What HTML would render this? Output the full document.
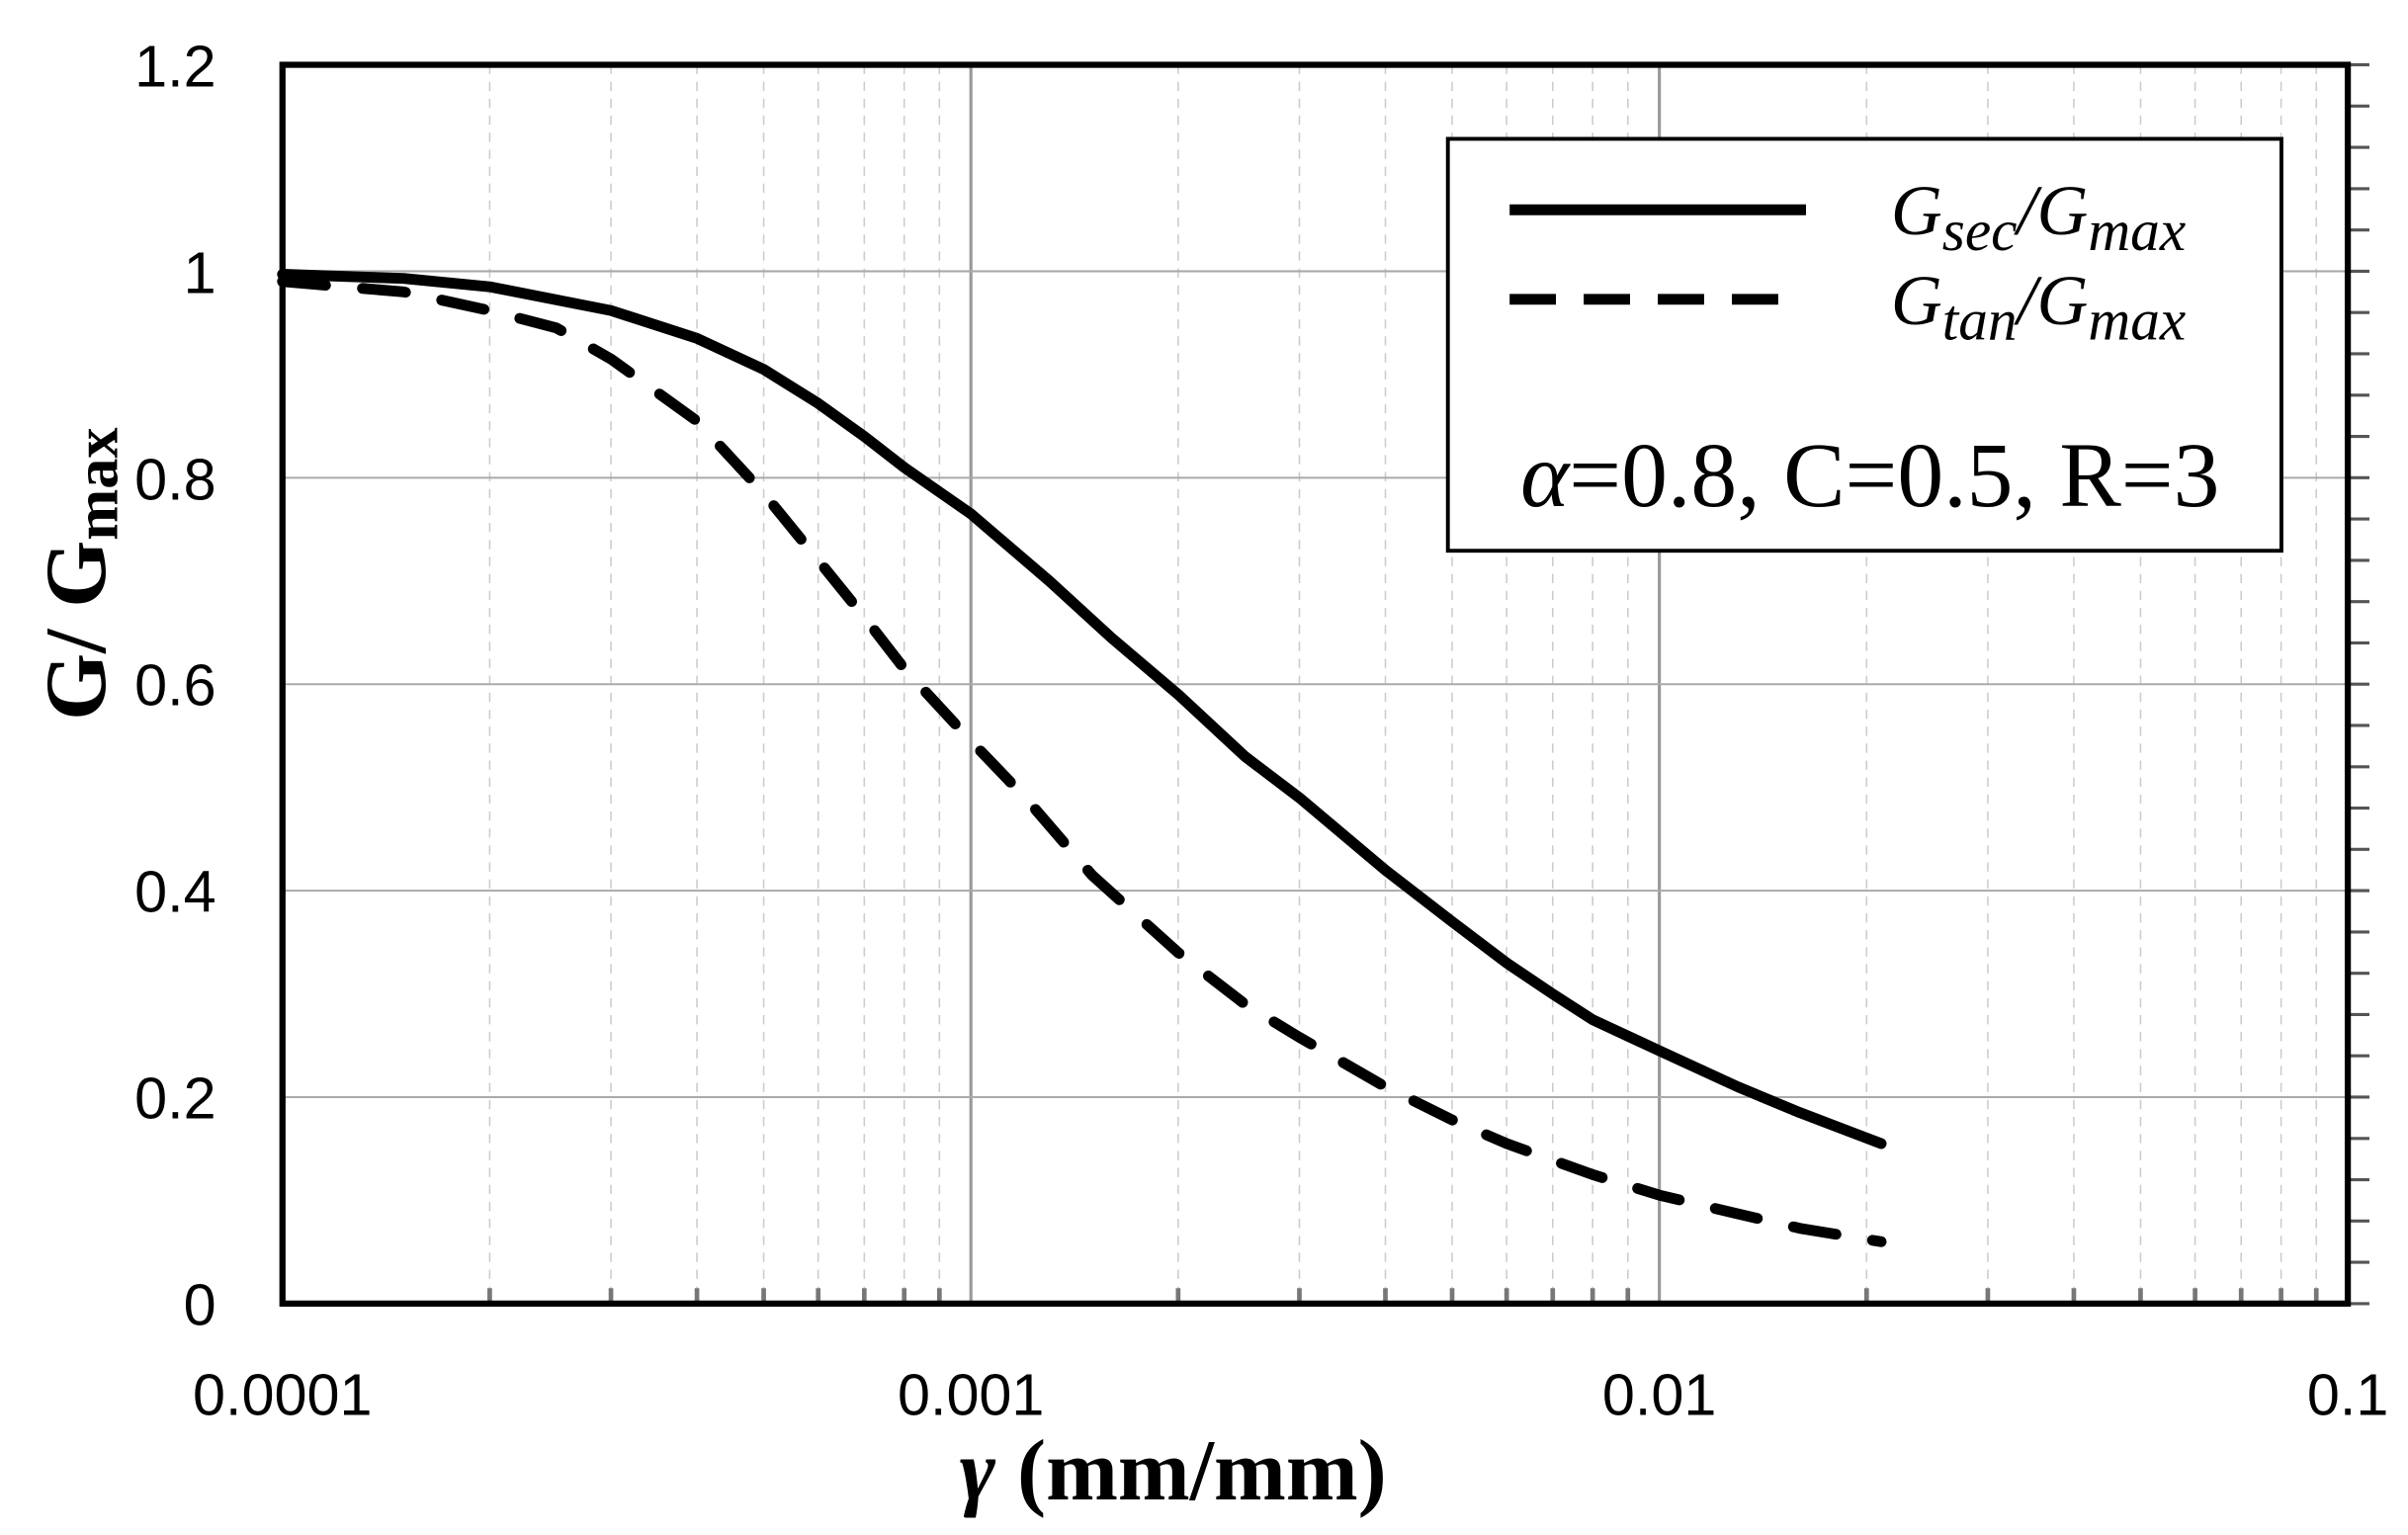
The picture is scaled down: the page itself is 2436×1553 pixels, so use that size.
<!DOCTYPE html>
<html><head><meta charset="utf-8"><style>html,body{margin:0;padding:0;background:#fff}svg{display:block}</style></head>
<body>
<svg id="s" width="2436" height="1553" viewBox="0 0 1560 995" preserveAspectRatio="none" xmlns="http://www.w3.org/2000/svg">
<rect width="1560" height="995" fill="#fff"/>
<g id="grid"></g>
<g id="curves"></g>
<rect x="183" y="42" width="1338" height="803" fill="none" stroke="#000" stroke-width="4"/>
<g font-family="Liberation Sans, sans-serif" font-size="38" fill="#000" text-anchor="end">
<text x="140" y="56">1.2</text><text x="140" y="190">1</text><text x="140" y="324">0.8</text>
<text x="140" y="457">0.6</text><text x="140" y="591">0.4</text><text x="140" y="725">0.2</text><text x="140" y="859">0</text>
</g>
<g font-family="Liberation Sans, sans-serif" font-size="38" fill="#000" text-anchor="middle">
<text x="183" y="917">0.0001</text><text x="629" y="917">0.001</text><text x="1075" y="917">0.01</text><text x="1521" y="917">0.1</text>
</g>
<text x="760" y="972" text-anchor="middle" font-family="Liberation Serif, serif" font-weight="bold" font-size="56"><tspan font-style="italic">γ</tspan> (mm/mm)</text>
<text transform="translate(68,372) rotate(-90)" text-anchor="middle" font-family="Liberation Serif, serif" font-weight="bold" font-size="56">G/ G<tspan font-size="40" dy="8">max</tspan></text>
<rect x="938" y="90" width="540" height="267" fill="#fff" stroke="#000" stroke-width="2.5"/>
<line x1="978" y1="136" x2="1170" y2="136" stroke="#000" stroke-width="7"/>
<line x1="978" y1="194" x2="1170" y2="194" stroke="#000" stroke-width="7" stroke-dasharray="30,18"/>
<g font-family="Liberation Serif, serif" font-style="italic" font-size="46">
<text x="1225" y="152">G<tspan font-size="38" dy="10">sec</tspan><tspan dy="-10">/G</tspan><tspan font-size="38" dy="10">max</tspan></text>
<text x="1225" y="210">G<tspan font-size="38" dy="10">tan</tspan><tspan dy="-10">/G</tspan><tspan font-size="38" dy="10">max</tspan></text>
</g>
<text x="985" y="328" font-family="Liberation Serif, serif" font-size="60"><tspan font-style="italic">α</tspan>=0.8, C=0.5, R=3</text>
</svg>
<script>
var NS="http://www.w3.org/2000/svg";
function el(p,t,a){var e=document.createElementNS(NS,t);for(var k in a)e.setAttribute(k,a[k]);p.appendChild(e);return e;}
var g=document.getElementById("grid"),c=document.getElementById("curves");
var X0=183,D=446,Y0=845,H=803/1.2;
function X(v){return X0+(Math.log10(v)+4)*D;}
function Y(v){return Y0-v*H;}
for(var d=0;d<3;d++){for(var m=2;m<=9;m++){var x=X(m*Math.pow(10,-4+d));
el(g,"line",{x1:x,y1:42,x2:x,y2:845,stroke:"#ccc","stroke-width":1,"stroke-dasharray":"6,5"});
el(g,"line",{x1:x,y1:835,x2:x,y2:845,stroke:"#777","stroke-width":3});}
if(d>0){var x2=X(Math.pow(10,-4+d));el(g,"line",{x1:x2,y1:42,x2:x2,y2:845,stroke:"#999","stroke-width":2});}}
for(var i=1;i<=5;i++){var y=Y(i*0.2);el(g,"line",{x1:183,y1:y,x2:1521,y2:y,stroke:"#aaa","stroke-width":1.3});}
for(var i=0;i<=30;i++){var y=Y(i*0.04);el(g,"line",{x1:1521,y1:y,x2:1535,y2:y,stroke:"#555","stroke-width":2});}
function path(pts,dash){var s="";pts.forEach(function(p,i){s+=(i?"L":"M")+X(p[0]).toFixed(1)+","+Y(p[1]).toFixed(1);});
var a={d:s,fill:"none",stroke:"#000","stroke-width":7,"stroke-linecap":"round","stroke-linejoin":"round"};if(dash)a["stroke-dasharray"]="28,24";el(c,"path",a);}
path([[1e-4,0.997],[1.5e-4,0.993],[2e-4,0.985],[3e-4,0.962],[4e-4,0.935],[5e-4,0.905],[6e-4,0.872],[7e-4,0.84],[8e-4,0.81],[1e-3,0.765],[1.3e-3,0.7],[1.6e-3,0.645],[2e-3,0.59],[2.5e-3,0.53],[3e-3,0.49],[4e-3,0.42],[5e-3,0.37],[6e-3,0.33],[7e-3,0.3],[8e-3,0.275],[1e-2,0.245],[1.3e-2,0.21],[1.6e-2,0.185],[2.1e-2,0.155]],false);
path([[1e-4,0.99],[1.5e-4,0.98],[2e-4,0.962],[2.5e-4,0.945],[3e-4,0.915],[4e-4,0.855],[5e-4,0.785],[6e-4,0.72],[7e-4,0.665],[8e-4,0.615],[1e-3,0.545],[1.2e-3,0.49],[1.5e-3,0.415],[2e-3,0.34],[2.5e-3,0.29],[3e-3,0.258],[4e-3,0.21],[5e-3,0.178],[6e-3,0.155],[8e-3,0.125],[1e-2,0.105],[1.3e-2,0.087],[1.6e-2,0.073],[2.1e-2,0.06]],true);
</script>
</body></html>
